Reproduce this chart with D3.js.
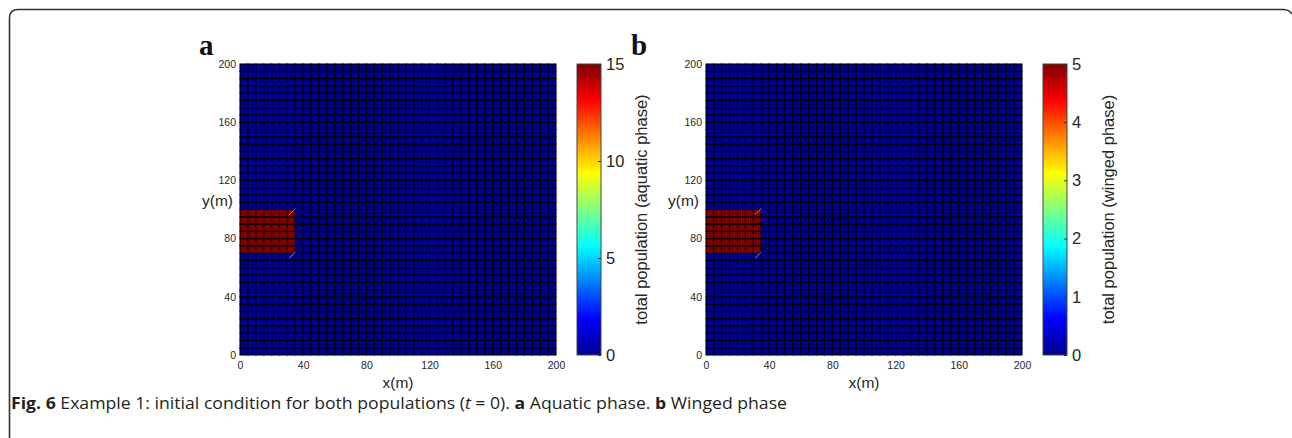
<!DOCTYPE html>
<html><head><meta charset="utf-8">
<script src="https://cdn.jsdelivr.net/npm/d3@7"></script>
<style>body{margin:0;background:#fff}svg{display:block}</style>
</head><body>
<svg id="c" width="1292" height="438"></svg>
<script>
// ---- data ----
const xDomain = [0, 200];
const yDomain = [0, 200];
const cellSize = 5;                       // m per grid cell
const xTicks = [0, 40, 80, 120, 160, 200];
const yTicks = [0, 40, 80, 120, 160, 200];
const blockX = [0, 35];                   // initial population patch (m)
const blockY = [70, 100];
const panelLetters = ["a", "b"];
const blockValues = [15, 5];              // value inside patch
const backgroundValues = [0, 0];
const cbarMax = [15, 5];
const cbarTicksA = [0, 5, 10, 15];
const cbarTicksB = [0, 1, 2, 3, 4, 5];
const cbarLabels = ["total population (aquatic phase)", "total population (winged phase)"];
const jetStops = ["#00008f","#0000ff","#0080ff","#00ffff","#80ff80","#ffff00","#ff8000","#ff0000","#800000"];

const svg = d3.select("#c");

// frame
svg.append("path")
  .attr("d", "M9.5,438 L9.5,18 Q9.5,9.5 18,9.5 L1283,9.5 Q1289,9.5 1292,14")
  .attr("fill","none").attr("stroke","#333").attr("stroke-width",1.6);

const jet = d3.scaleLinear().domain(jetStops.map((d,i)=>i/(jetStops.length-1))).range(jetStops).interpolate(d3.interpolateRgb);

const defs = svg.append("defs");
const grad = defs.append("linearGradient").attr("id","jetg").attr("x1",0).attr("y1",1).attr("x2",0).attr("y2",0);
jetStops.forEach((c,i)=>grad.append("stop").attr("offset", i/(jetStops.length-1)).attr("stop-color", c));

const panels = [
  {x0:240, x1:556, cb0:577, cb1:601, letterX:199, cbLabelX:641, ticks:cbarTicksA},
  {x0:706, x1:1022, cb0:1043, cb1:1067, letterX:631, cbLabelX:1108, ticks:cbarTicksB}
];
const yTop = 64, yBot = 355;

panels.forEach((p, pi) => {
  const g = svg.append("g");
  const x = d3.scaleLinear().domain(xDomain).range([p.x0, p.x1]);
  const y = d3.scaleLinear().domain(yDomain).range([yBot, yTop]);
  const c = d3.scaleLinear().domain([0, cbarMax[pi]]).range([0,1]);

  const cells = [];
  for (let cx = xDomain[0]; cx < xDomain[1]; cx += cellSize)
    for (let cy = yDomain[0]; cy < yDomain[1]; cy += cellSize) {
      const inside = cx >= blockX[0] && cx < blockX[1] && cy >= blockY[0] && cy < blockY[1];
      cells.push({x:cx, y:cy, v: inside ? blockValues[pi] : backgroundValues[pi]});
    }
  g.selectAll("rect.cell").data(cells).join("rect").attr("class","cell")
    .attr("x", d=>x(d.x)).attr("y", d=>y(d.y+cellSize))
    .attr("width", d=>x(d.x+cellSize)-x(d.x)).attr("height", d=>y(d.y)-y(d.y+cellSize))
    .attr("fill", d=>jet(c(d.v))).attr("stroke","#000").attr("stroke-width",1.1);

  // small rendering artifacts at patch corners
  g.append("line").attr("x1", x(blockX[1])-6).attr("y1", y(blockY[1])+5).attr("x2", x(blockX[1])).attr("y2", y(blockY[1])-1)
    .attr("stroke","#d08080").attr("stroke-width",1);
  g.append("line").attr("x1", x(blockX[1])-6).attr("y1", y(blockY[0])+5).attr("x2", x(blockX[1])).attr("y2", y(blockY[0])-1)
    .attr("stroke","#8080e0").attr("stroke-width",1);

  // axes
  const fontAx = "Liberation Sans, Arial, sans-serif";
  g.append("g").attr("transform",`translate(0,${yBot})`)
    .call(d3.axisBottom(x).tickValues(xTicks).tickSize(0).tickPadding(7))
    .call(s=>{s.select(".domain").remove(); s.selectAll("text").attr("font-size",10.5).attr("font-family",fontAx).attr("fill","#262626");});
  g.append("g").attr("transform",`translate(${p.x0},0)`)
    .call(d3.axisLeft(y).tickValues(yTicks).tickSize(0).tickPadding(4))
    .call(s=>{s.select(".domain").remove(); s.selectAll("text").attr("font-size",10.5).attr("font-family",fontAx).attr("fill","#262626");});
  g.append("text").attr("x",(p.x0+p.x1)/2).attr("y",388).attr("text-anchor","middle")
    .attr("font-family",fontAx).attr("font-size",15.5).attr("fill","#262626").text("x(m)");
  g.append("text").attr("x",p.x0-7).attr("y",206).attr("text-anchor","end")
    .attr("font-family",fontAx).attr("font-size",15.5).attr("fill","#262626").text("y(m)");

  // panel letter
  g.append("text").attr("x",p.letterX).attr("y",55).attr("font-family","Liberation Serif, Times New Roman, serif")
    .attr("font-weight","bold").attr("font-size",29).attr("fill","#111").text(panelLetters[pi]);

  // colorbar
  const cy = d3.scaleLinear().domain([0, cbarMax[pi]]).range([yBot, yTop]);
  g.append("rect").attr("x",p.cb0).attr("y",yTop).attr("width",p.cb1-p.cb0).attr("height",yBot-yTop)
    .attr("fill","url(#jetg)").attr("stroke","#444").attr("stroke-width",1);
  g.append("g").attr("transform",`translate(${p.cb1},0)`)
    .call(d3.axisRight(cy).tickValues(p.ticks).tickSize(-3).tickPadding(5).tickFormat(d3.format("d")))
    .call(s=>{s.select(".domain").remove(); s.selectAll("line").attr("stroke","#333");
      s.selectAll("text").attr("font-size",16.5).attr("font-family",fontAx).attr("fill","#262626");});
  g.append("text").attr("transform",`translate(${p.cbLabelX},${(yTop+yBot)/2}) rotate(-90)`)
    .attr("text-anchor","middle").attr("dy","0.35em")
    .attr("font-family",fontAx).attr("font-size",16.5).attr("fill","#262626").text(cbarLabels[pi]);
});

// caption
const cap = svg.append("text").attr("x",11).attr("y",409).attr("font-family","Open Sans, Noto Sans, sans-serif")
  .attr("font-size",16).attr("fill","#231f20").attr("textLength",776).attr("lengthAdjust","spacingAndGlyphs");
cap.append("tspan").attr("font-weight","bold").text("Fig. 6");
cap.append("tspan").text(" Example 1: initial condition for both populations (");
cap.append("tspan").attr("font-style","italic").text("t");
cap.append("tspan").text(" = 0). ");
cap.append("tspan").attr("font-weight","bold").text("a");
cap.append("tspan").text(" Aquatic phase. ");
cap.append("tspan").attr("font-weight","bold").text("b");
cap.append("tspan").text(" Winged phase");
</script>
</body></html>
